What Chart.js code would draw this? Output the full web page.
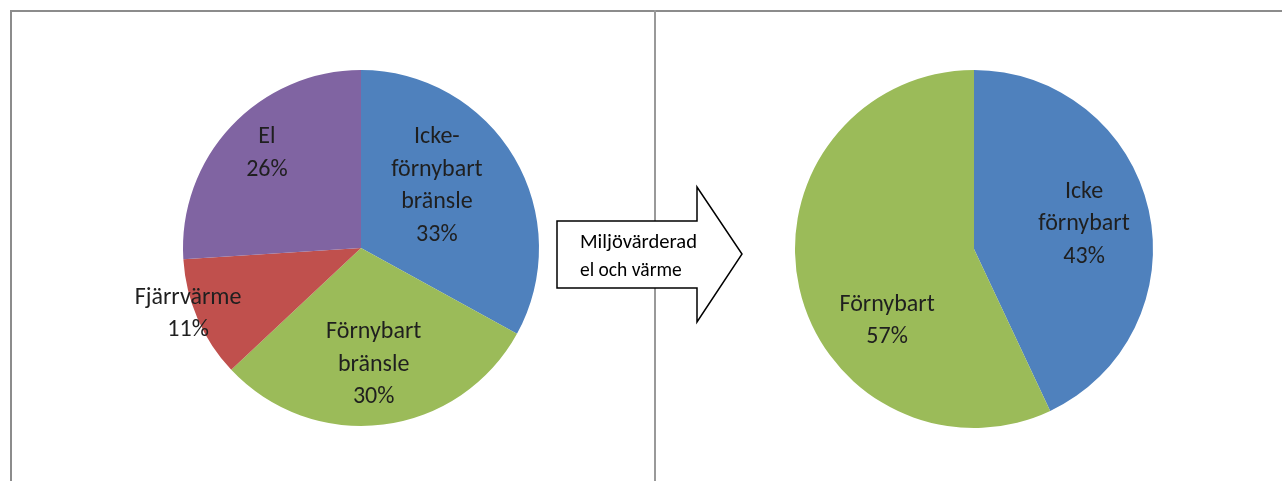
<!DOCTYPE html>
<html><head><meta charset="utf-8">
<script src="https://cdn.jsdelivr.net/npm/chart.js@4"></script>
<style>
html,body{margin:0;padding:0;background:#fff;width:1282px;height:481px;overflow:hidden;position:relative;font-family:Carlito,Lato,"Open Sans",sans-serif;}
.ln{position:absolute;background:#8c8c8c;}
canvas{position:absolute;}
#arrow{position:absolute;left:0;top:0;}
</style></head><body>
<div class="ln" style="left:10px;top:10px;width:1272px;height:2px;"></div>
<div class="ln" style="left:10px;top:10px;width:2px;height:471px;"></div>
<div class="ln" style="left:654px;top:10px;width:2px;height:471px;background:#999;"></div>
<div style="position:absolute;left:100px;top:0;width:520px;height:481px;"><canvas id="c1"></canvas></div>
<div style="position:absolute;left:700px;top:0;width:560px;height:481px;"><canvas id="c2"></canvas></div>
<svg id="arrow" width="1282" height="481">
<polygon points="557,221 697,221 697,187 742,254 697,322 697,288 557,288" fill="#fff" stroke="#000" stroke-width="1.5" stroke-linejoin="miter"/>
<text x="580" y="248" font-family="Carlito,Lato,'Open Sans',sans-serif" font-size="19.5" fill="#000" textLength="117" lengthAdjust="spacingAndGlyphs">Miljövärderad</text>
<text x="580" y="276" font-family="Carlito,Lato,'Open Sans',sans-serif" font-size="19.5" fill="#000">el och värme</text>
</svg>
<script>
const leftCategories = ['Icke-\nförnybart\nbränsle', 'Förnybart\nbränsle', 'Fjärrvärme', 'El'];
const leftValues = [33, 30, 11, 26];
const rightCategories = ['Icke\nförnybart', 'Förnybart'];
const rightValues = [43, 57];

const sliceColors = ['#4F81BD', '#9BBB59', '#C0504D', '#8064A2'];
const rightColors = ['#4F81BD', '#9BBB59'];

// label placement: radial fraction and angle shift (degrees)
const leftLabelPos = [[0.55, -8.6], [0.66, 1], [1.04, 2.5], [0.75, 2]];
const rightLabelPos = [[0.63, 0], [0.63, -27]];

const labelPlugin = {
  id: 'pieLabels',
  afterDatasetsDraw(chart, args, opts) {
    const ctx = chart.ctx;
    const meta = chart.getDatasetMeta(0);
    const cats = chart.data.labels;
    const vals = chart.data.datasets[0].data;
    const total = vals.reduce((a, b) => a + b, 0);
    ctx.save();
    ctx.font = '24px Carlito, Lato, "Open Sans", sans-serif';
    ctx.fillStyle = '#1f1f1f';
    ctx.textAlign = 'center';
    ctx.textBaseline = 'middle';
    meta.data.forEach((arc, i) => {
      const p = arc.getProps(['x', 'y', 'startAngle', 'endAngle', 'outerRadius'], true);
      const pos = opts.pos[i];
      const mid = (p.startAngle + p.endAngle) / 2 + pos[1] * Math.PI / 180;
      const r = p.outerRadius * pos[0];
      const cx = p.x + Math.cos(mid) * r;
      const cy = p.y + Math.sin(mid) * r;
      const lines = cats[i].split('\n').concat([Math.round(vals[i] / total * 100) + '%']);
      const lh = 32.5;
      lines.forEach((t, k) => {
        ctx.fillText(t, cx, cy + (k - (lines.length - 1) / 2) * lh);
      });
    });
    ctx.restore();
  }
};

function makePie(id, cats, vals, colors, pos, padding) {
  return new Chart(document.getElementById(id), {
    type: 'pie',
    data: { labels: cats, datasets: [{ data: vals, backgroundColor: colors, borderWidth: 0, hoverOffset: 0, offset: 0 }] },
    options: {
      responsive: true, maintainAspectRatio: false, animation: false,
      layout: { padding: padding },
      plugins: { legend: { display: false }, tooltip: { enabled: false }, pieLabels: { pos: pos } },
      events: []
    },
    plugins: [labelPlugin]
  });
}
// left canvas spans x 100..620 ; pie area x 183..539, y 70..426
makePie('c1', leftCategories, leftValues, sliceColors, leftLabelPos, { left: 83, right: 81, top: 70, bottom: 55 });
// right canvas spans x 700..1260 ; pie area x 795..1153, y 70..428
makePie('c2', rightCategories, rightValues, rightColors, rightLabelPos, { left: 95, right: 107, top: 70, bottom: 53 });
</script>
</body></html>
